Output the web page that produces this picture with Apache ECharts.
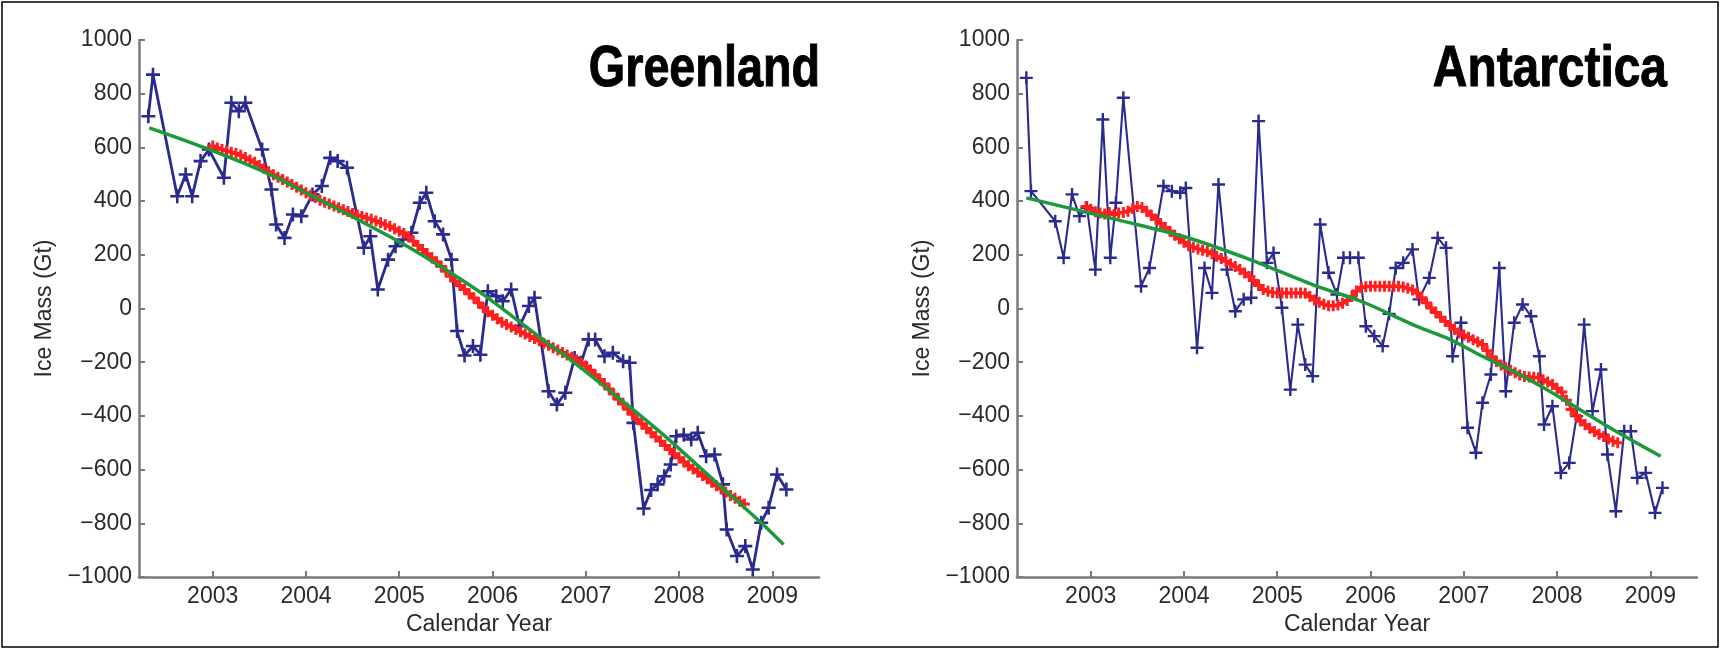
<!DOCTYPE html>
<html><head><meta charset="utf-8">
<script src="https://cdn.jsdelivr.net/npm/echarts@6/dist/echarts.min.js"></script>
<style>html,body{margin:0;padding:0;background:#fff;}#chart{width:1721px;height:650px;}</style>
</head><body><div id="chart"></div>
<script>
// ---------- data ----------
const yearTicks = [2003, 2004, 2005, 2006, 2007, 2008, 2009];
const panelTitles = ['Greenland', 'Antarctica'];
const xAxisName = 'Calendar Year';
const yAxisName = 'Ice Mass (Gt)';

// Greenland monthly GRACE estimates (blue)
const greenlandYears = [2002.31,2002.36,2002.62,2002.71,2002.78,2002.87,2002.96,2003.12,2003.20,2003.28,2003.35,2003.53,2003.63,2003.68,2003.77,2003.86,2003.95,2004.07,2004.17,2004.26,2004.34,2004.44,2004.62,2004.69,2004.77,2004.88,2004.96,2005.04,2005.13,2005.22,2005.29,2005.38,2005.47,2005.56,2005.62,2005.70,2005.79,2005.87,2005.95,2006.04,2006.11,2006.20,2006.29,2006.39,2006.45,2006.60,2006.69,2006.78,2006.88,2006.95,2007.03,2007.10,2007.20,2007.29,2007.40,2007.47,2007.51,2007.62,2007.70,2007.77,2007.84,2007.91,2007.97,2008.05,2008.13,2008.20,2008.29,2008.38,2008.47,2008.51,2008.62,2008.71,2008.79,2008.88,2008.96,2009.05,2009.15];
const greenlandMass = [716,871,418,499,418,549,592,487,766,735,766,592,443,313,263,350,344,425,456,561,549,524,226,269,71,182,232,257,282,394,431,325,276,182,-84,-175,-140,-172,64,46,27,71,-66,9,40,-308,-358,-314,-184,-202,-115,-115,-178,-165,-196,-202,-426,-745,-676,-655,-625,-581,-476,-470,-488,-463,-550,-544,-655,-823,-922,-885,-972,-798,-742,-618,-674];
// Greenland smoothed series (red), every 0.05 yr from 2003.00
const greenlandSmoothStart = 2003.00;
const smoothStep = 0.05;
const greenlandSmooth = [
605,598,592,587,582,577,571,562,553,545,533,521,509,498,489,480,471,462,452,441,
431,422,413,403,396,389,382,375,368,361,354,348,343,337,332,326,319,312,306,297,
288,279,267,251,235,220,204,189,173,157,139,120,102,86,71,55,39,21,4,-12,
-25,-38,-51,-60,-69,-78,-87,-95,-104,-112,-120,-129,-137,-146,-155,-164,-173,-182,-192,-203,
-214,-230,-247,-264,-281,-300,-319,-338,-356,-375,-394,-413,-429,-446,-463,-478,-494,-510,-525,-541,
-556,-572,-586,-598,-610,-622,-634,-647,-660,-672,-684,-696,-707,-718,-728];
// Greenland fitted trend (green)
const greenlandTrendYears = [2002.32,2002.92,2003.57,2004.00,2004.53,2005.07,2005.55,2005.91,2006.53,2006.90,2007.54,2007.90,2008.47,2008.88,2009.12];
const greenlandTrend = [673,598,506,431,336,235,133,50,-113,-208,-386,-491,-670,-798,-879];

// Antarctica monthly GRACE estimates (blue)
const antarcticaYears = [2002.31,2002.36,2002.62,2002.71,2002.80,2002.88,2002.96,2003.05,2003.13,2003.21,2003.27,2003.35,2003.54,2003.63,2003.78,2003.87,2003.96,2004.02,2004.14,2004.22,2004.30,2004.37,2004.46,2004.55,2004.64,2004.72,2004.80,2004.89,2004.96,2005.05,2005.14,2005.22,2005.30,2005.38,2005.46,2005.55,2005.64,2005.71,2005.78,2005.87,2005.95,2006.04,2006.13,2006.20,2006.27,2006.35,2006.45,2006.52,2006.63,2006.72,2006.81,2006.88,2006.97,2007.04,2007.13,2007.20,2007.29,2007.38,2007.45,2007.54,2007.63,2007.72,2007.81,2007.86,2007.95,2008.04,2008.13,2008.21,2008.29,2008.38,2008.47,2008.54,2008.63,2008.72,2008.79,2008.86,2008.95,2009.05,2009.13];
const antarcticaMass = [859,437,325,189,425,344,375,145,704,189,394,785,83,151,456,437,431,449,-146,151,58,462,145,-10,34,40,698,170,207,3,-302,-60,-209,-252,313,133,52,189,189,189,-66,-103,-140,-20,151,170,220,34,114,263,226,-178,-53,-444,-537,-351,-246,151,-308,-53,15,-29,-178,-432,-364,-612,-575,-401,-60,-382,-227,-544,-755,-457,-457,-631,-612,-761,-668];
// Antarctica smoothed series (red), every 0.05 yr from 2002.95
const antarcticaSmoothStart = 2002.95;
const antarcticaSmooth = [
380,370,360,356,352,358,350,356,358,362,372,380,376,362,347,332,317,302,288,273,
260,247,234,228,222,217,212,204,195,186,176,166,156,145,132,119,104,86,71,64,
60,58,58,58,58,58,58,57,45,32,23,16,10,10,13,20,30,45,65,78,
81,83,83,83,83,83,83,83,80,75,69,58,40,21,2,-15,-32,-48,-63,-77,
-91,-99,-107,-116,-125,-134,-157,-180,-197,-210,-221,-230,-239,-248,-253,-255,-256,-258,-265,-274,
-283,-297,-311,-342,-376,-397,-418,-433,-446,-458,-468,-477,-486,-494,-500];
// Antarctica fitted trend (green)
const antarcticaTrendYears = [2002.31,2003.28,2003.99,2004.71,2005.42,2005.90,2006.49,2006.85,2007.20,2007.56,2007.92,2008.27,2008.63,2009.11];
const antarcticaTrend = [412,331,269,182,83,27,-66,-115,-178,-239,-308,-382,-457,-550];

// ---------- styling ----------
const BLUE = '#2b2a8e', RED = '#ff1f1f', GREEN = '#1c9a3a', AXIS = '#7a7a7a', TXT = '#2a2a2a';
const FONT = '"Liberation Sans", Arial, Helvetica, sans-serif';
const PLUS = 'path://M-1.1,-6H1.1V-1.1H6V1.1H1.1V6H-1.1V1.1H-6V-1.1H-1.1Z';
const PLUS_RED = 'path://M-1.6,-6H1.6V-1.6H6V1.6H1.6V6H-1.6V1.6H-6V-1.6H-1.6Z';

function pairs(xs, ys) { return ys.map((v, i) => [xs[i], v]); }
function stepPairs(start, ys) { return ys.map((v, i) => [+(start + i * smoothStep).toFixed(2), v]); }

function xAxisCfg(gi) {
  return {
    gridIndex: gi, type: 'value', min: 2002.21, max: 2009.5,
    name: xAxisName, nameLocation: 'middle', nameGap: 35,
    nameTextStyle: { fontSize: 23, color: TXT, fontFamily: FONT },
    axisLine: { show: true, onZero: false, lineStyle: { color: AXIS, width: 2.5 } },
    axisTick: { show: true, inside: true, length: 6, customValues: yearTicks, lineStyle: { color: AXIS, width: 2 } },
    axisLabel: { customValues: yearTicks, fontSize: 23, color: TXT, fontFamily: FONT, margin: 8, formatter: v => String(v) },
    splitLine: { show: false }
  };
}
function yAxisCfg(gi) {
  return {
    gridIndex: gi, type: 'value', min: -1000, max: 1000, interval: 200,
    name: yAxisName, nameLocation: 'middle', nameGap: 83,
    nameTextStyle: { fontSize: 23, color: TXT, fontFamily: FONT },
    axisLine: { show: true, onZero: false, lineStyle: { color: AXIS, width: 2.5 } },
    axisTick: { show: true, inside: true, length: 6, lineStyle: { color: AXIS, width: 2 } },
    axisLabel: { fontSize: 23, color: TXT, fontFamily: FONT, margin: 7, formatter: v => String(v).replace('-', '\u2212') },
    splitLine: { show: false }
  };
}
function seriesFor(gi, years, mass, sStart, smooth, tYears, trend, blueW, blueSize) {
  return [
    { type: 'line', xAxisIndex: gi, yAxisIndex: gi, data: pairs(years, mass), z: 2,
      symbol: PLUS, symbolSize: blueSize, showAllSymbol: true,
      lineStyle: { color: BLUE, width: blueW }, itemStyle: { color: BLUE } },
    { type: 'line', xAxisIndex: gi, yAxisIndex: gi, data: stepPairs(sStart, smooth), z: 3,
      symbol: PLUS_RED, symbolSize: 11, showAllSymbol: true,
      lineStyle: { color: RED, width: 2 }, itemStyle: { color: RED } },
    { type: 'line', xAxisIndex: gi, yAxisIndex: gi, data: pairs(tYears, trend), z: 4,
      showSymbol: false, smooth: 0.3, lineStyle: { color: GREEN, width: 3.5 } }
  ];
}

const chart = echarts.init(document.getElementById('chart'), null, { renderer: 'canvas' });
chart.setOption({
  animation: false,
  backgroundColor: '#fff',
  grid: [
    { left: 139, top: 40, width: 680, height: 537 },
    { left: 1017, top: 40, width: 680, height: 537 }
  ],
  xAxis: [xAxisCfg(0), xAxisCfg(1)],
  yAxis: [yAxisCfg(0), yAxisCfg(1)],
  series: [].concat(
    seriesFor(0, greenlandYears, greenlandMass, greenlandSmoothStart, greenlandSmooth, greenlandTrendYears, greenlandTrend, 2.8, 14),
    seriesFor(1, antarcticaYears, antarcticaMass, antarcticaSmoothStart, antarcticaSmooth, antarcticaTrendYears, antarcticaTrend, 2.1, 13)
  ),
  graphic: [
    { type: 'rect', shape: { x: 2, y: 2, width: 1716, height: 645 }, style: { fill: 'none', stroke: '#000', lineWidth: 1.5 }, silent: true },
    { type: 'text', x: 820, y: 70, scaleX: 0.82, style: { text: panelTitles[0], font: 'bold 57px ' + FONT, fill: '#000', stroke: '#000', lineWidth: 1, align: 'right', verticalAlign: 'middle' } },
    { type: 'text', x: 1667, y: 70, scaleX: 0.84, style: { text: panelTitles[1], font: 'bold 57px ' + FONT, fill: '#000', stroke: '#000', lineWidth: 1, align: 'right', verticalAlign: 'middle' } }
  ]
});
</script></body></html>
